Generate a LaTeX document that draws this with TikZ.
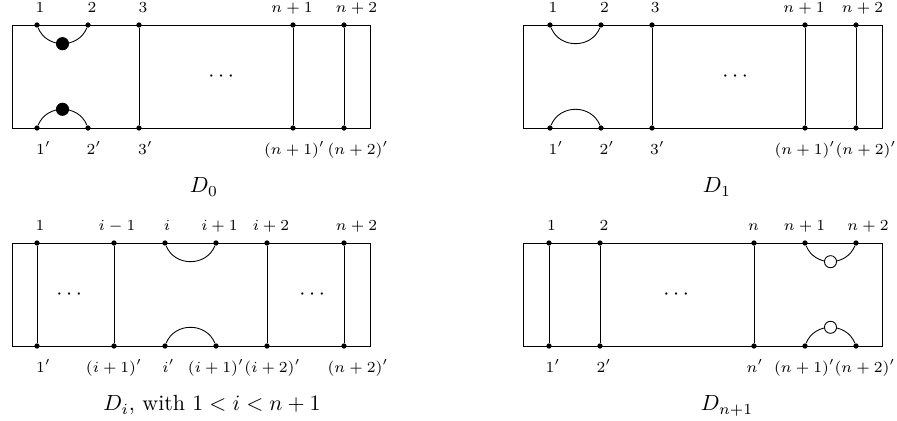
\documentclass[tikz,border=0pt]{standalone}
\usepackage{amsmath}
\usepackage{tikz}
\usetikzlibrary{positioning}

\begin{document}
\begin{tikzpicture}[x=0.016cm, y=0.016cm,
        vtx/.style={circle, fill, inner sep=0pt, minimum size=2.4pt},
        bigdot/.style={circle, fill, inner sep=0pt, minimum size=6pt},
        opendot/.style={circle, draw, fill=white, inner sep=0pt, minimum size=5.5pt},
        lbl/.style={font=\scriptsize, inner sep=0pt, text height=5pt, text depth=2pt},
        toplbl/.style 2 args={label={[lbl, label distance=2.2pt, xshift=#2*0.455pt]above:$#1$}},
        botlbl/.style 2 args={label={[lbl, label distance=5.4pt, xshift=#2*0.455pt]below:$#1$}},
        dotsbox/.style={inner sep=0pt, text height=5pt, text depth=0pt},
        captxt/.style={anchor=base}]
        \useasboundingbox (0,0) rectangle (897,421);

        % D_0
        \draw (12,293) rectangle (370,396);
        \node[vtx, toplbl={1}{3}] (at1) at (37,396) {};
        \node[vtx, toplbl={2}{4}] (at2) at (88,396) {};
        \node[vtx, toplbl={3}{4}] (at3) at (139,396) {};
        \node[vtx, toplbl={n+1}{-1}] (at4) at (293,396) {};
        \node[vtx, toplbl={n+2}{12.5}] (at5) at (344,396) {};
        \node[vtx, botlbl={1'}{6.5}] (ab1) at (37,293) {};
        \node[vtx, botlbl={2'}{6}] (ab2) at (88,293) {};
        \node[vtx, botlbl={3'}{6.5}] (ab3) at (139,293) {};
        \node[vtx, botlbl={(n+1)'}{1.5}] (ab4) at (293,293) {};
        \node[vtx, botlbl={(n+2)'}{14}] (ab5) at (344,293) {};
        \draw (at3) -- (ab3);
        \draw (at4) -- (ab4);
        \draw (at5) -- (ab5);
        \draw (at1) to[out=-68, in=-112, looseness=1.2] node[bigdot] (atd) {} (at2);
        \draw (ab1) to[out=68, in=112, looseness=1.2] node[bigdot] (abd) {} (ab2);
        \node[dotsbox] (adots) at (223,344.5) {$\cdots$};
        \node[captxt] (acap) at (204,228) {$D_0$};

        % D_1
        \draw (523,293) rectangle (882,396);
        \node[vtx, toplbl={1}{3}] (bt1) at (550,396) {};
        \node[vtx, toplbl={2}{3.5}] (bt2) at (601,396) {};
        \node[vtx, toplbl={3}{3.3}] (bt3) at (652,396) {};
        \node[vtx, toplbl={n+1}{-1}] (bt4) at (805,396) {};
        \node[vtx, toplbl={n+2}{6.5}] (bt5) at (856,396) {};
        \node[vtx, botlbl={1'}{6}] (bb1) at (550,293) {};
        \node[vtx, botlbl={2'}{6}] (bb2) at (601,293) {};
        \node[vtx, botlbl={3'}{5.5}] (bb3) at (652,293) {};
        \node[vtx, botlbl={(n+1)'}{0}] (bb4) at (805,293) {};
        \node[vtx, botlbl={(n+2)'}{10}] (bb5) at (856,293) {};
        \draw (bt3) -- (bb3);
        \draw (bt4) -- (bb4);
        \draw (bt5) -- (bb5);
        \draw (bt1) to[out=-68, in=-112, looseness=1.2] (bt2);
        \draw (bb1) to[out=68, in=112, looseness=1.2] (bb2);
        \node[dotsbox] (bdots) at (737,344.5) {$\cdots$};
        \node[captxt] (bcap) at (717,228) {$D_1$};

        % D_i
        \draw (12,75) rectangle (370,178);
        \node[vtx, toplbl={1}{3}] (ct1) at (37,178) {};
        \node[vtx, toplbl={i-1}{3}] (ct2) at (114,178) {};
        \node[vtx, toplbl={i}{2}] (ct3) at (165,178) {};
        \node[vtx, toplbl={i+1}{3.5}] (ct4) at (216,178) {};
        \node[vtx, toplbl={i+2}{4}] (ct5) at (267,178) {};
        \node[vtx, toplbl={n+2}{12.5}] (ct6) at (344,178) {};
        \node[vtx, botlbl={1'}{6.5}] (cb1) at (37,75) {};
        \node[vtx, botlbl={(i+1)'}{0}] (cb2) at (114,75) {};
        \node[vtx, botlbl={i'}{3.5}] (cb3) at (165,75) {};
        \node[vtx, botlbl={(i+1)'}{0}] (cb4) at (216,75) {};
        \node[vtx, botlbl={(i+2)'}{5.5}] (cb5) at (267,75) {};
        \node[vtx, botlbl={(n+2)'}{14}] (cb6) at (344,75) {};
        \draw (ct1) -- (cb1);
        \draw (ct2) -- (cb2);
        \draw (ct5) -- (cb5);
        \draw (ct6) -- (cb6);
        \draw (ct3) to[out=-68, in=-112, looseness=1.2] (ct4);
        \draw (cb3) to[out=68, in=112, looseness=1.2] (cb4);
        \node[dotsbox] (cdotsl) at (71,126.5) {$\cdots$};
        \node[dotsbox] (cdotsr) at (314,126.5) {$\cdots$};
        \node[captxt] (ccap) at (212,10) {$D_i$, with $1<i<n+1$};

        % D_{n+1}
        \draw (523,75) rectangle (882,178);
        \node[vtx, toplbl={1}{2.5}] (dt1) at (549,178) {};
        \node[vtx, toplbl={2}{4}] (dt2) at (600,178) {};
        \node[vtx, toplbl={n}{-0.5}] (dt3) at (754,178) {};
        \node[vtx, toplbl={n+1}{-0.5}] (dt4) at (805,178) {};
        \node[vtx, toplbl={n+2}{12}] (dt5) at (856,178) {};
        \node[vtx, botlbl={1'}{4}] (db1) at (549,75) {};
        \node[vtx, botlbl={2'}{4}] (db2) at (600,75) {};
        \node[vtx, botlbl={n'}{1}] (db3) at (754,75) {};
        \node[vtx, botlbl={(n+1)'}{-0.5}] (db4) at (805,75) {};
        \node[vtx, botlbl={(n+2)'}{9}] (db5) at (856,75) {};
        \draw (dt1) -- (db1);
        \draw (dt2) -- (db2);
        \draw (dt3) -- (db3);
        \draw (dt4) to[out=-68, in=-112, looseness=1.2] node[opendot] (dtd) {} (dt5);
        \draw (db4) to[out=68, in=112, looseness=1.2] node[opendot] (dbd) {} (db5);
        \node[dotsbox] (ddots) at (678,126.5) {$\cdots$};
        \node[captxt] (dcap) at (727,10) {$D_{n+1}$};
\end{tikzpicture}
\end{document}
